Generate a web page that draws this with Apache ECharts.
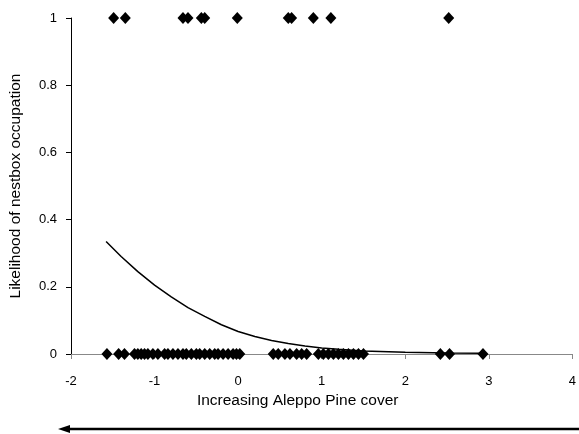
<!DOCTYPE html>
<html>
<head>
<meta charset="utf-8">
<script src="https://cdn.jsdelivr.net/npm/echarts@6/dist/echarts.min.js"></script>
<style>
  html, body { margin: 0; padding: 0; background: #fff; }
  #chart { width: 579px; height: 434px; }
</style>
</head>
<body>
<div id="chart"></div>
<script>
// occupied nestboxes (y = 1)
const occupiedX = [-1.49, -1.35, -0.66, -0.6, -0.44, -0.4, -0.01, 0.6, 0.64, 0.9, 1.11, 2.52]
// empty nestboxes (y = 0)
const emptyX = [-1.57, -1.43, -1.36, -1.24, -1.2, -1.16, -1.12, -1.08, -1.02, -0.96, -0.88, -0.84,
  -0.78, -0.72, -0.66, -0.62, -0.56, -0.5, -0.46, -0.4, -0.34, -0.28, -0.24, -0.18, -0.12, -0.06,
  -0.02, 0.02, 0.42, 0.48, 0.56, 0.62, 0.7, 0.76, 0.82, 0.96, 1.02, 1.08, 1.14, 1.2, 1.26, 1.32,
  1.38, 1.44, 1.5, 2.42, 2.53, 2.93]
// fitted curve
const curveX = [-1.58, -1.4, -1.2, -1.0, -0.8, -0.6, -0.4, -0.2, 0, 0.2, 0.4, 0.6, 0.8, 1.0, 1.2, 1.5, 2.0, 2.5, 2.92]
const curveY = [0.335, 0.29, 0.245, 0.205, 0.17, 0.138, 0.112, 0.087, 0.067, 0.052, 0.04, 0.031, 0.024, 0.018, 0.014, 0.009, 0.005, 0.003, 0.002]

const font = 'Liberation Sans, Arial, sans-serif'
const chart = echarts.init(document.getElementById('chart'))

chart.setOption({
  animation: false,
  grid: { left: 70, right: 2, top: 18, bottom: 80 },
  xAxis: {
    type: 'value', min: -2, max: 4, interval: 1,
    name: 'Increasing Aleppo Pine cover',
    nameLocation: 'middle', nameGap: 38,
    nameTextStyle: { fontFamily: font, fontSize: 15.5, color: '#000', padding: [0, 48, 0, 0] },
    axisLine: { onZero: false, lineStyle: { color: '#888', width: 1 } },
    axisTick: { length: 5, lineStyle: { color: '#888' } },
    axisLabel: { fontFamily: font, fontSize: 13, color: '#000', margin: 21 },
    splitLine: { show: false }
  },
  yAxis: {
    type: 'value', min: 0, max: 1, interval: 0.2,
    name: 'Likelihood of nestbox occupation',
    nameLocation: 'middle', nameGap: 47,
    nameTextStyle: { fontFamily: font, fontSize: 15.5, color: '#000' },
    axisLine: { show: true, onZero: false, lineStyle: { color: '#000', width: 1 } },
    axisTick: { show: true, length: 5, lineStyle: { color: '#000' } },
    axisLabel: { fontFamily: font, fontSize: 13, color: '#000', margin: 14 },
    splitLine: { show: false }
  },
  series: [
    {
      type: 'line',
      data: curveX.map((x, i) => [x, curveY[i]]),
      smooth: false, showSymbol: false,
      lineStyle: { color: '#000', width: 1.5 },
      z: 2
    },
    {
      type: 'scatter',
      data: occupiedX.map(x => [x, 1]),
      symbol: 'diamond', symbolSize: [11, 12],
      itemStyle: { color: '#000', opacity: 1 },
      z: 3
    },
    {
      type: 'scatter',
      data: emptyX.map(x => [x, 0]),
      symbol: 'diamond', symbolSize: [11, 12],
      itemStyle: { color: '#000', opacity: 1 },
      z: 3
    }
  ],
  graphic: [
    {
      type: 'line',
      shape: { x1: 66, y1: 429, x2: 579, y2: 429 },
      style: { stroke: '#000', lineWidth: 2.5 }
    },
    {
      type: 'polygon',
      shape: { points: [[58, 429], [70, 425], [70, 433]] },
      style: { fill: '#000' }
    }
  ]
})
</script>
</body>
</html>
